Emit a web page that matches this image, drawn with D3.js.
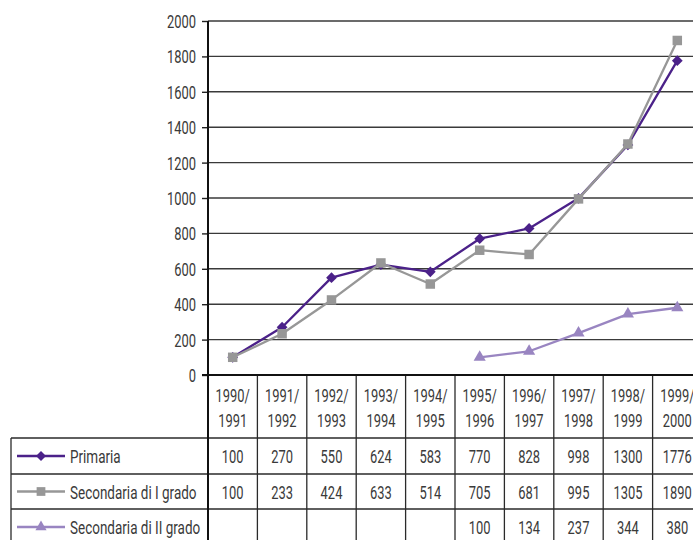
<!DOCTYPE html>
<html>
<head>
<meta charset="utf-8">
<script src="https://cdn.jsdelivr.net/npm/d3@7/dist/d3.min.js"></script>
<style>
  html, body { margin: 0; padding: 0; background: #fff; }
  svg { display: block; }
  text { font-family: Roboto, "Noto Sans", sans-serif; fill: #3a3a3a; }
</style>
</head>
<body>
<script>
// School years (two-line labels in the table header)
const categories = ["1990/1991", "1991/1992", "1992/1993", "1993/1994", "1994/1995",
                    "1995/1996", "1996/1997", "1997/1998", "1998/1999", "1999/2000"];
const primaria = [100, 270, 550, 624, 583, 770, 828, 998, 1300, 1776];
const secondariaI = [100, 233, 424, 633, 514, 705, 681, 995, 1305, 1890];
const secondariaII = [null, null, null, null, null, 100, 134, 237, 344, 380];
const yTicks = [0, 200, 400, 600, 800, 1000, 1200, 1400, 1600, 1800, 2000];

// Rotated-square marker (diamond with equal diagonals)
const diamondSquare = {
  draw(context, size) {
    const r = Math.sqrt(size / 2);
    context.moveTo(0, -r);
    context.lineTo(r, 0);
    context.lineTo(0, r);
    context.lineTo(-r, 0);
    context.closePath();
  }
};

const series = [
  { name: "Primaria", values: primaria, color: "#4b2189", symbol: diamondSquare, size: 58 },
  { name: "Secondaria di I grado", values: secondariaI, color: "#979797", symbol: d3.symbolSquare, size: 90 },
  { name: "Secondaria di II grado", values: secondariaII, color: "#9985c1", symbol: d3.symbolTriangle, size: 64 }
];

const W = 693, H = 540;
const plotLeft = 208, plotRight = 702, plotTop = 21, plotBottom = 375;
const headerBottom = 438;
const rowLines = [438, 474, 509];
const rowMid = [456, 491.5, 527];
const tableLeft = 11;
const FS = 19;        // base font size
const NARROW = 0.68;  // horizontal condensing of the lettering

const svg = d3.select("body").append("svg").attr("width", W).attr("height", H);

// Condensed text: placed with a transform so glyphs are narrowed horizontally
function ctext(parent, tx, ty, str, anchor, size, sx) {
  return parent.append("text")
    .attr("transform", `translate(${tx},${ty}) scale(${sx || NARROW},1)`)
    .attr("text-anchor", anchor || "start")
    .attr("font-size", size || FS)
    .text(str);
}

const x = d3.scaleBand().domain(categories).range([plotLeft, plotRight]).padding(0);
const y = d3.scaleLinear().domain([0, 2000]).range([plotBottom, plotTop]);

// Horizontal gridlines
svg.append("g").selectAll("line").data(yTicks.filter(t => t > 0)).join("line")
  .attr("x1", plotLeft).attr("x2", plotRight)
  .attr("y1", d => y(d)).attr("y2", d => y(d))
  .attr("stroke", "#3a3a3a").attr("stroke-width", 1.4);

// Y axis: ticks from the axis generator, labels condensed
const yAxis = svg.append("g").attr("transform", `translate(${plotLeft},0)`)
  .call(d3.axisLeft(y).tickValues(yTicks).tickSize(6).tickFormat(d3.format("d")));
yAxis.select(".domain").remove();
yAxis.selectAll(".tick line").attr("stroke", "#222").attr("stroke-width", 1.4);
yAxis.selectAll(".tick").each(function(d) {
  const g = d3.select(this);
  g.select("text").remove();
  ctext(g, -12, 6.5, d3.format("d")(d), "end", FS);
});

// Table grid: vertical separators between school years
const bounds = categories.map(c => x(c)).concat([plotRight]);
svg.append("g").selectAll("line").data(bounds.slice(1)).join("line")
  .attr("x1", d => d).attr("x2", d => d)
  .attr("y1", plotBottom).attr("y2", H)
  .attr("stroke", "#2a2a2a").attr("stroke-width", 1.3);

// Table grid: row separators and left border
svg.append("g").selectAll("line").data(rowLines).join("line")
  .attr("x1", tableLeft).attr("x2", plotRight)
  .attr("y1", d => d).attr("y2", d => d)
  .attr("stroke", "#2a2a2a").attr("stroke-width", 1.3);
svg.append("line").attr("x1", tableLeft).attr("x2", tableLeft)
  .attr("y1", headerBottom).attr("y2", H)
  .attr("stroke", "#2a2a2a").attr("stroke-width", 1.3);

// Axis lines (value axis and base line)
svg.append("line").attr("x1", plotLeft).attr("x2", plotLeft).attr("y1", plotTop).attr("y2", H)
  .attr("stroke", "#111").attr("stroke-width", 2);
svg.append("line").attr("x1", plotLeft - 6).attr("x2", plotRight).attr("y1", plotBottom).attr("y2", plotBottom)
  .attr("stroke", "#111").attr("stroke-width", 2.2);

// Category header labels (two lines)
const headerG = svg.append("g");
categories.forEach(c => {
  const cx = x(c) + x.bandwidth() / 2;
  const [a, b] = c.split("/");
  ctext(headerG, cx, 402, a + "/", "middle");
  ctext(headerG, cx, 427, b, "middle");
});

// Lines and markers
const line = d3.line()
  .defined(d => d.v != null)
  .x(d => x(d.c) + x.bandwidth() / 2)
  .y(d => y(d.v));

series.forEach((s, si) => {
  const pts = categories.map((c, i) => ({ c, v: s.values[i] }));
  svg.append("path").datum(pts)
    .attr("fill", "none").attr("stroke", s.color).attr("stroke-width", 2.3)
    .attr("stroke-linejoin", "round")
    .attr("d", line);
  svg.append("g").selectAll("path").data(pts.filter(d => d.v != null)).join("path")
    .attr("transform", d => `translate(${x(d.c) + x.bandwidth() / 2},${y(d.v)})`)
    .attr("d", d3.symbol().type(s.symbol).size(s.size))
    .attr("fill", s.color);

  // Legend key in the table
  const ly = rowMid[si];
  svg.append("line").attr("x1", 17).attr("x2", 65).attr("y1", ly).attr("y2", ly)
    .attr("stroke", s.color).attr("stroke-width", 2.3);
  svg.append("path").attr("transform", `translate(41,${ly})`)
    .attr("d", d3.symbol().type(s.symbol).size(s.size * 0.85))
    .attr("fill", s.color);
  ctext(svg, 70, ly + 7, s.name, "start", FS, 0.71);

  // Values in the table row
  const rowG = svg.append("g");
  pts.filter(d => d.v != null).forEach(d => {
    ctext(rowG, x(d.c) + x.bandwidth() / 2, ly + 7, String(d.v), "middle");
  });
});
</script>
</body>
</html>
